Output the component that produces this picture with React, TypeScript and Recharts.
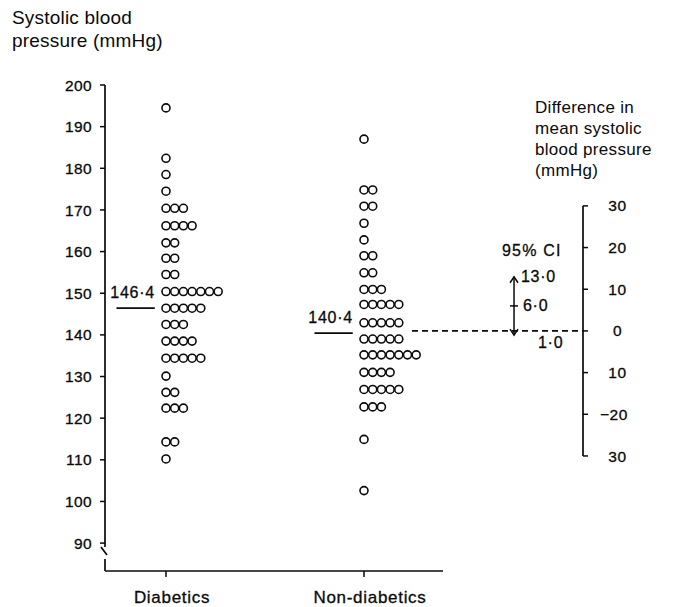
import React from 'react';
import { ScatterChart, Scatter, XAxis, YAxis, ReferenceLine, ReferenceDot } from 'recharts';

// ---- data ----
const categories = ['Diabetics', 'Non-diabetics'];
const diabeticValues = [194.5, 182.4, 178.5, 174.5, 170.4, 166.2, 162.1, 158.4, 154.5, 150.4, 146.4, 142.5, 138.5, 134.4, 130.1, 126.2, 122.4, 114.3, 110.2];
const diabeticCounts = [1, 1, 1, 1, 3, 4, 2, 2, 2, 7, 5, 3, 4, 5, 1, 2, 3, 2, 1];
const nonDiabeticValues = [187, 174.8, 170.9, 166.8, 162.8, 159, 154.9, 150.9, 147.3, 142.9, 139, 135.2, 131, 126.9, 122.7, 114.9, 102.6];
const nonDiabeticCounts = [1, 2, 2, 1, 1, 2, 2, 3, 5, 5, 5, 7, 4, 5, 3, 1, 1];
const groupMeans = [146.4, 140.4];
const meanLabels = ['146·4', '140·4'];
const leftTicks = [90, 100, 110, 120, 130, 140, 150, 160, 170, 180, 190, 200];
const rightTicks = [30, 20, 10, 0, -10, -20, -30];
const rightTickLabels: Record<string, string> = { '30': '30', '20': '20', '10': '10', '0': '0', '-10': '10', '-20': '−20', '-30': '30' };
const ciLower = -1.0;
const ciMid = 6.0;
const ciUpper = 13.0;
const ciLabels = ['1·0', '6·0', '13·0'];

// ---- layout ----
const W = 674;
const H = 607;
const CAT_X = [1, 4];
const X_MIN = 0.076;
const X_MAX = 7.318;
const PX = 1 / 66; // x units per pixel
const DOT_STEP = 8.7 * PX;
const Y_MIN = 83.3;
const Y_MAX = 200;
const R_MIN = -57.6;
const R_MAX = 59.0;
const FONT = '"Liberation Sans", Arial, Helvetica, sans-serif';
const INK = '#0a0a0a';
const CI_X = 6.273;

function buildDots(values: number[], counts: number[], cx: number) {
  const out: { x: number; y: number }[] = [];
  values.forEach((v, i) => {
    for (let k = 0; k < counts[i]; k++) out.push({ x: cx + k * DOT_STEP, y: v });
  });
  return out;
}
const diabeticDots = buildDots(diabeticValues, diabeticCounts, CAT_X[0]);
const nonDiabeticDots = buildDots(nonDiabeticValues, nonDiabeticCounts, CAT_X[1]);

const Dot = (p: any) => <circle cx={p.cx} cy={p.cy} r={4} fill="#fff" stroke={INK} strokeWidth={1.6} />;

const textStyle = { fill: INK, stroke: INK, strokeWidth: 0.3, fontFamily: FONT };

const textShape = (label: string, dx: number, dy: number, anchor: string, size = 16, ls = 0.7) => (p: any) => (
  <text x={p.cx + dx} y={p.cy + dy} textAnchor={anchor} fontSize={size} letterSpacing={ls} {...textStyle}>
    {label}
  </text>
);

const arrowUp = (p: any) => (
  <path d={`M${p.cx - 4},${p.cy + 6} L${p.cx},${p.cy} L${p.cx + 4},${p.cy + 6}`} fill="none" stroke={INK} strokeWidth={1.5} />
);
const arrowDown = (p: any) => (
  <path d={`M${p.cx - 4},${p.cy - 6} L${p.cx},${p.cy} L${p.cx + 4},${p.cy - 6}`} fill="none" stroke={INK} strokeWidth={1.5} />
);

const RightTick = (p: any) => {
  const label = rightTickLabels[String(p.payload.value)];
  const neg = label.startsWith('−');
  return (
    <text x={neg ? p.x + 38 : p.x + 27.5} y={p.y} dy="0.36em" textAnchor={neg ? 'end' : 'middle'} fontSize={15.5} letterSpacing={0.6} {...textStyle}>
      {label}
    </text>
  );
};

const LeftTick = (p: any) => (
  <text x={p.x} y={p.y} dy="0.36em" textAnchor="end" fontSize={15.5} letterSpacing={0.4} {...textStyle}>
    {p.payload.value}
  </text>
);

const CatTick = (p: any) => (
  <text x={p.x + 6} y={p.y} dy={24} textAnchor="middle" fontSize={17} letterSpacing={0.7} {...textStyle}>
    {categories[CAT_X.indexOf(p.payload.value)]}
  </text>
);

const lineStyle = { stroke: INK, strokeWidth: 1.7 };

export default function App() {
  return (
    <div style={{ position: 'absolute', left: 0, top: 0, width: W, height: H, background: '#fff', fontFamily: FONT, color: INK }}>
      <div style={{ position: 'absolute', left: 12, top: 6, fontSize: 19, lineHeight: '23px', letterSpacing: 0.2 }}>
        Systolic blood
        <br />
        pressure (mmHg)
      </div>
      <div style={{ position: 'absolute', left: 535, top: 97, fontSize: 17, lineHeight: '21px', letterSpacing: 0.3 }}>
        Difference in
        <br />
        mean systolic
        <br />
        blood pressure
        <br />
        (mmHg)
      </div>
      <ScatterChart width={W} height={H} margin={{ top: 85, right: 31, bottom: 0, left: 45 }} style={{ position: 'absolute', left: 0, top: 0 }}>
        <XAxis
          type="number"
          dataKey="x"
          domain={[X_MIN, X_MAX]}
          allowDataOverflow
          ticks={CAT_X}
          interval={0}
          axisLine={false}
          tickLine={{ stroke: INK, strokeWidth: 1.5 }}
          tickSize={6}
          height={36}
          tick={<CatTick />}
        />
        <YAxis
          yAxisId="left"
          type="number"
          dataKey="y"
          domain={[Y_MIN, Y_MAX]}
          allowDataOverflow
          ticks={leftTicks}
          interval={0}
          width={60}
          axisLine={false}
          tickLine={{ stroke: INK, strokeWidth: 1.5 }}
          tickSize={5}
          tickMargin={8}
          tick={<LeftTick />}
        />
        <YAxis
          yAxisId="right"
          orientation="right"
          type="number"
          domain={[R_MIN, R_MAX]}
          allowDataOverflow
          ticks={rightTicks}
          interval={0}
          width={60}
          axisLine={false}
          tickLine={{ stroke: INK, strokeWidth: 1.5 }}
          tickSize={5}
          tick={<RightTick />}
        />

        {/* left axis with break */}
        <ReferenceLine yAxisId="left" ifOverflow="visible" segment={[{ x: X_MIN, y: Y_MAX }, { x: X_MIN, y: 89.06 }]} {...lineStyle} />
        <ReferenceLine yAxisId="left" ifOverflow="visible" segment={[{ x: X_MIN - 4 * PX, y: 89.06 }, { x: X_MIN + 2 * PX, y: 87.14 }]} {...lineStyle} />
        <ReferenceLine yAxisId="left" ifOverflow="visible" segment={[{ x: X_MIN, y: 86.18 }, { x: X_MIN, y: Y_MIN }]} {...lineStyle} />
        {/* bottom axis */}
        <ReferenceLine yAxisId="left" ifOverflow="visible" segment={[{ x: X_MIN, y: Y_MIN }, { x: X_MIN + 338 * PX, y: Y_MIN }]} {...lineStyle} />
        {/* right axis */}
        <ReferenceLine yAxisId="right" ifOverflow="visible" segment={[{ x: X_MAX, y: 30 }, { x: X_MAX, y: -30 }]} {...lineStyle} />

        {/* means */}
        {groupMeans.map((m, i) => (
          <ReferenceLine key={'m' + i} yAxisId="left" ifOverflow="visible" segment={[{ x: CAT_X[i] - 0.75, y: m }, { x: CAT_X[i] - 0.17, y: m }]} {...lineStyle} />
        ))}
        {groupMeans.map((m, i) => (
          <ReferenceDot key={'ml' + i} yAxisId="left" ifOverflow="visible" x={CAT_X[i] - 0.17} y={m} r={0} shape={textShape(meanLabels[i], 0, -10, 'end')} />
        ))}

        {/* zero-difference dashed line */}
        <ReferenceLine yAxisId="right" ifOverflow="visible" segment={[{ x: CAT_X[1] + 48 * PX, y: 0 }, { x: X_MAX, y: 0 }]} stroke={INK} strokeWidth={1.7} strokeDasharray="6 4" />

        {/* 95% CI */}
        <ReferenceLine yAxisId="right" ifOverflow="visible" segment={[{ x: CI_X, y: ciLower }, { x: CI_X, y: ciUpper }]} stroke={INK} strokeWidth={1.5} />
        <ReferenceLine yAxisId="right" ifOverflow="visible" segment={[{ x: CI_X - 4 * PX, y: ciMid }, { x: CI_X + 4 * PX, y: ciMid }]} stroke={INK} strokeWidth={1.5} />
        <ReferenceDot yAxisId="right" ifOverflow="visible" x={CI_X} y={ciUpper} r={0} shape={arrowUp} />
        <ReferenceDot yAxisId="right" ifOverflow="visible" x={CI_X} y={ciLower} r={0} shape={arrowDown} />
        <ReferenceDot yAxisId="right" ifOverflow="visible" x={CI_X} y={ciUpper} r={0} shape={textShape('95% CI', -12, -21, 'start', 16, 1.2)} />
        <ReferenceDot yAxisId="right" ifOverflow="visible" x={CI_X} y={ciUpper} r={0} shape={textShape(ciLabels[2], 7, 5, 'start')} />
        <ReferenceDot yAxisId="right" ifOverflow="visible" x={CI_X} y={ciMid} r={0} shape={textShape(ciLabels[1], 9, 5.5, 'start')} />
        <ReferenceDot yAxisId="right" ifOverflow="visible" x={CI_X} y={0} r={0} shape={textShape(ciLabels[0], 24, 17, 'start')} />

        <Scatter yAxisId="left" data={diabeticDots} shape={Dot} isAnimationActive={false} />
        <Scatter yAxisId="left" data={nonDiabeticDots} shape={Dot} isAnimationActive={false} />
      </ScatterChart>
    </div>
  );
}
